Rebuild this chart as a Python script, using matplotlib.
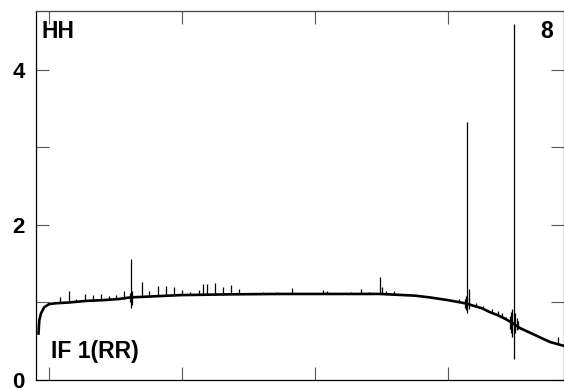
import matplotlib
matplotlib.use("Agg")
import matplotlib.pyplot as plt
from matplotlib.ticker import FixedLocator, FuncFormatter

plt.rcParams['font.family'] = ['Liberation Sans', 'DejaVu Sans']

# Continuum (channel, amplitude)
base_x = [2.5, 3.3, 5, 8.3, 13.3, 20, 33, 50, 67, 83, 94, 144, 194, 244, 294, 344,
          379, 394, 412, 429, 446, 454, 462, 469, 476, 484, 494, 504, 514, 528]
base_y = [0.60, 0.77, 0.86, 0.94, 0.98, 0.99, 1.00, 1.02, 1.03, 1.045, 1.065, 1.095,
          1.105, 1.11, 1.11, 1.11, 1.088, 1.065, 1.03, 0.99, 0.925, 0.875, 0.835,
          0.79, 0.74, 0.67, 0.61, 0.55, 0.49, 0.44]

# Spectral features (channel, peak, foot)
spike_x = [24.3, 32.7, 40, 49, 57.3, 65, 72.7, 80, 88, 95, 105.5, 112.5, 121.7, 130,
           138, 146, 154, 162.5, 166.7, 170.5, 179, 187, 195, 203.2, 227, 241, 256.2,
           286.7, 291.3, 314.7, 324.7, 333, 344, 346.3, 349.7, 358, 423.3, 431, 433.3,
           440, 447.3, 455.7, 461.7, 466.3, 470, 477.5, 521.7,
           473.5, 475, 476, 479, 480.5, 482, 429, 430, 432.5, 93.5, 96]
spike_top = [1.075, 1.148, 1.045, 1.11, 1.097, 1.11, 1.088, 1.097, 1.152, 1.557,
             1.268, 1.148, 1.213, 1.219, 1.20, 1.161, 1.132, 1.155, 1.235, 1.239,
             1.252, 1.20, 1.226, 1.168, 1.135, 1.139, 1.183, 1.161, 1.148, 1.135,
             1.174, 1.135, 1.325, 1.196, 1.148, 1.148, 1.041, 3.33, 1.17, 0.997,
             0.955, 0.916, 0.89, 0.86, 0.817, 4.59, 0.551,
             0.82, 0.88, 0.92, 0.86, 0.80, 0.76, 1.05, 1.08, 1.06, 1.12, 1.15]
spike_foot = [0.995, 1.0, 1.01, 1.02, 1.025, 1.03, 1.035, 1.04, 1.05, 0.933,
              1.07, 1.075, 1.08, 1.085, 1.09, 1.095, 1.097, 1.10, 1.10, 1.10,
              1.10, 1.10, 1.105, 1.105, 1.108, 1.11, 1.11, 1.11, 1.11, 1.11,
              1.11, 1.11, 1.11, 1.105, 1.105, 1.10, 1.0, 0.86, 0.98, 0.96,
              0.92, 0.87, 0.84, 0.81, 0.785, 0.277, 0.47,
              0.66, 0.60, 0.56, 0.60, 0.64, 0.66, 0.93, 0.90, 0.92, 1.0, 0.97]

y_ticks = [0, 1, 2, 3, 4]
y_labels = {0: "0", 2: "2", 4: "4"}
x_ticks = [13, 146, 279, 412]

W, H = 564, 388
fig = plt.figure(figsize=(W / 100, H / 100), dpi=100)
ax = fig.add_axes([36 / W, 1 - 380 / H, 528 / W, 369 / H])

ax.plot(base_x, base_y, color='black', lw=1.9, solid_joinstyle='round')
ax.vlines(spike_x, spike_foot, spike_top, color='black', lw=0.9)

ax.set_xlim(0, 528)
ax.set_ylim(0, 4.76)

ax.yaxis.set_major_locator(FixedLocator(y_ticks))
ax.yaxis.set_major_formatter(FuncFormatter(lambda v, p: y_labels.get(int(round(v)), "")))
ax.xaxis.set_major_locator(FixedLocator(x_ticks))
ax.tick_params(axis='both', direction='in', length=9.5, width=0.8, color='#555555',
               top=True, right=True, labelbottom=False, labelsize=16, pad=8)
for lab in ax.get_yticklabels():
    lab.set_fontweight('bold')
for s in ax.spines.values():
    s.set_linewidth(0.9)
ax.spines['top'].set_color('#444444')

ax.text(5.7 / 528, (380 - 38.3) / 369, "HH", transform=ax.transAxes, fontsize=16.5,
        fontweight='bold', ha='left', va='baseline')
ax.text((552.7 - 36) / 528, (380 - 37.7) / 369, "8", transform=ax.transAxes, fontsize=16.5,
        fontweight='bold', ha='right', va='baseline')
ax.text((50.7 - 36) / 528, (380 - 358.3) / 369, "IF 1(RR)", transform=ax.transAxes,
        fontsize=16.5, fontweight='bold', ha='left', va='baseline')

fig.savefig("out.png", dpi=100)
